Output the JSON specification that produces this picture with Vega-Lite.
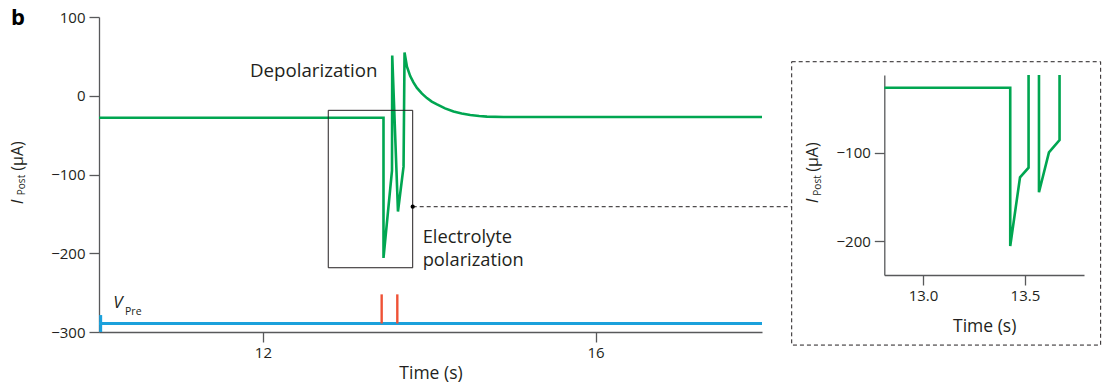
{
  "$schema": "https://vega.github.io/schema/vega-lite/v6.json",
  "width": 663,
  "height": 315,
  "autosize": {"type": "none"},
  "padding": {"left": 99, "top": 17, "right": 346, "bottom": 57},
  "background": "white",
  "config": {
    "view": {"stroke": null},
    "font": "Open Sans",
    "axis": {
      "grid": false,
      "domainColor": "#58595b",
      "tickColor": "#58595b",
      "domainWidth": 1.3,
      "tickWidth": 1.3,
      "tickSize": 10,
      "labelColor": "#231f20",
      "labelFont": "Open Sans",
      "labelFontSize": 15,
      "titleFont": "Open Sans",
      "titleFontSize": 17.5,
      "titleFontWeight": "normal",
      "titleColor": "#231f20"
    }
  },
  "datasets": {
    "post": [
      {"i": 1, "t": 10.03, "I": -28},
      {"i": 2, "t": 13.45, "I": -28},
      {"i": 3, "t": 13.45, "I": -206},
      {"i": 4, "t": 13.552, "I": -95},
      {"i": 5, "t": 13.555, "I": 51},
      {"i": 6, "t": 13.624, "I": -147},
      {"i": 7, "t": 13.691, "I": -90},
      {"i": 8, "t": 13.703, "I": 55},
      {"i": 9, "t": 13.732, "I": 37},
      {"i": 10, "t": 13.771, "I": 25},
      {"i": 11, "t": 13.81, "I": 17},
      {"i": 12, "t": 13.852, "I": 10},
      {"i": 13, "t": 13.91, "I": 3},
      {"i": 14, "t": 13.972, "I": -3},
      {"i": 15, "t": 14.03, "I": -7.5},
      {"i": 16, "t": 14.093, "I": -11},
      {"i": 17, "t": 14.19, "I": -16},
      {"i": 18, "t": 14.292, "I": -20},
      {"i": 19, "t": 14.39, "I": -22.5},
      {"i": 20, "t": 14.493, "I": -24.5},
      {"i": 21, "t": 14.6, "I": -25.8},
      {"i": 22, "t": 14.694, "I": -26.5},
      {"i": 23, "t": 14.894, "I": -27},
      {"i": 24, "t": 18.0, "I": -27}
    ],
    "pre": [
      {"t": 10.03, "V": -289.2},
      {"t": 18.0, "V": -289.2}
    ],
    "pulses": [
      {"t": 13.428, "lo": -289.2, "hi": -252.2},
      {"t": 13.616, "lo": -289.2, "hi": -252.2}
    ],
    "inset": [
      {"seg": "a", "i": 1, "t": 12.81, "I": -26.4},
      {"seg": "a", "i": 2, "t": 13.428, "I": -26.4},
      {"seg": "a", "i": 3, "t": 13.428, "I": -205.7},
      {"seg": "a", "i": 4, "t": 13.476, "I": -127.9},
      {"seg": "a", "i": 5, "t": 13.518, "I": -117},
      {"seg": "a", "i": 6, "t": 13.518, "I": -12},
      {"seg": "b", "i": 7, "t": 13.569, "I": -12},
      {"seg": "b", "i": 8, "t": 13.569, "I": -144.8},
      {"seg": "b", "i": 9, "t": 13.618, "I": -99.6},
      {"seg": "b", "i": 10, "t": 13.67, "I": -85.7},
      {"seg": "b", "i": 11, "t": 13.67, "I": -12}
    ]
  },
  "layer": [
    {
      "layer": [
        {
          "data": {"name": "post"},
          "mark": {"type": "line", "color": "#00a651", "strokeWidth": 2.6, "strokeJoin": "miter", "strokeMiterLimit": 4},
          "encoding": {
            "x": {"field": "t", "type": "quantitative",
                  "scale": {"domain": [10.03, 18], "nice": false, "zero": false},
                  "axis": {"values": [12, 16], "format": "d", "title": "Time (s)", "labelPadding": 3, "titlePadding": 4}},
            "y": {"field": "I", "type": "quantitative",
                  "scale": {"domain": [-300, 100], "nice": false, "zero": false},
                  "axis": {"values": [-300, -200, -100, 0, 100], "format": "d", "title": null, "labelPadding": 4}},
            "order": {"field": "i", "type": "quantitative"}
          }
        },
        {
          "data": {"name": "pre"},
          "mark": {"type": "line", "color": "#1ba1dc", "strokeWidth": 3},
          "encoding": {
            "x": {"field": "t", "type": "quantitative", "title": "Time (s)"},
            "y": {"field": "V", "type": "quantitative", "title": null}
          }
        },
        {
          "data": {"values": [{}]},
          "mark": {"type": "rule", "color": "#1ba1dc", "strokeWidth": 3},
          "encoding": {
            "x": {"datum": 10.05},
            "y": {"datum": -300},
            "y2": {"datum": -278.5}
          }
        },
        {
          "data": {"name": "pulses"},
          "mark": {"type": "rule", "color": "#ef5236", "strokeWidth": 2.4},
          "encoding": {
            "x": {"field": "t", "type": "quantitative", "title": "Time (s)"},
            "y": {"field": "lo", "type": "quantitative", "title": null},
            "y2": {"field": "hi"}
          }
        },
        {
          "data": {"values": [{}]},
          "mark": {"type": "rect", "fillOpacity": 0, "stroke": "#231f20", "strokeWidth": 1},
          "encoding": {
            "x": {"datum": 12.786}, "x2": {"datum": 13.801},
            "y": {"datum": -18.5}, "y2": {"datum": -218.4}
          }
        },
        {
          "data": {"values": [{}]},
          "mark": {"type": "rule", "color": "#231f20", "strokeWidth": 1, "strokeDash": [4, 3]},
          "encoding": {
            "x": {"datum": 13.801}, "x2": {"datum": 18.357},
            "y": {"datum": -140.9}
          }
        },
        {
          "data": {"values": [{}]},
          "mark": {"type": "point", "filled": true, "color": "#000000", "size": 18, "opacity": 1},
          "encoding": {
            "x": {"datum": 13.801},
            "y": {"datum": -140.9}
          }
        },
        {
          "data": {"values": [{}]},
          "mark": {"type": "rect", "fillOpacity": 0, "stroke": "#231f20", "strokeWidth": 1, "strokeDash": [4, 3]},
          "encoding": {
            "x": {"datum": 18.357}, "x2": {"datum": 22.071},
            "y": {"datum": 43.2}, "y2": {"datum": -316.6}
          }
        },
        {
          "data": {"values": [{}]},
          "mark": {"type": "text", "text": "b", "fontSize": 22, "fontWeight": "bold", "align": "center", "baseline": "alphabetic", "color": "#000000"},
          "encoding": {"x": {"datum": 9.056}, "y": {"datum": 89.8}}
        },
        {
          "data": {"values": [{}]},
          "mark": {"type": "text", "text": "Depolarization", "fontSize": 18.7, "align": "left", "baseline": "alphabetic", "color": "#231f20"},
          "encoding": {"x": {"datum": 11.845}, "y": {"datum": 24.2}}
        },
        {
          "data": {"values": [{}]},
          "mark": {"type": "text", "text": ["Electrolyte", "polarization"], "lineHeight": 23, "fontSize": 18.3, "align": "left", "baseline": "alphabetic", "color": "#231f20"},
          "encoding": {"x": {"datum": 13.921}, "y": {"datum": -187.6}}
        },
        {
          "data": {"values": [{}]},
          "mark": {"type": "text", "text": "V", "fontSize": 17, "fontStyle": "italic", "align": "left", "baseline": "alphabetic", "color": "#231f20"},
          "encoding": {"x": {"datum": 10.202}, "y": {"datum": -269.9}}
        },
        {
          "data": {"values": [{}]},
          "mark": {"type": "text", "text": "Pre", "fontSize": 10.5, "align": "left", "baseline": "alphabetic", "color": "#231f20"},
          "encoding": {"x": {"datum": 10.343}, "y": {"datum": -278.5}}
        },
        {
          "data": {"values": [{}]},
          "mark": {"type": "text", "text": "I", "fontSize": 17, "fontStyle": "italic", "angle": 270, "align": "center", "baseline": "alphabetic", "color": "#231f20"},
          "encoding": {"x": {"datum": 9.113}, "y": {"datum": -135}}
        },
        {
          "data": {"values": [{}]},
          "mark": {"type": "text", "text": "Post", "fontSize": 10, "angle": 270, "align": "center", "baseline": "alphabetic", "color": "#231f20"},
          "encoding": {"x": {"datum": 9.14}, "y": {"datum": -113.3}}
        },
        {
          "data": {"values": [{}]},
          "mark": {"type": "text", "text": "(µA)", "fontSize": 16, "angle": 270, "align": "center", "baseline": "alphabetic", "color": "#231f20"},
          "encoding": {"x": {"datum": 9.113}, "y": {"datum": -76.5}}
        }
      ]
    },
    {
      "layer": [
        {
          "data": {"name": "inset"},
          "mark": {"type": "line", "color": "#00a651", "strokeWidth": 2.6, "strokeJoin": "miter", "strokeMiterLimit": 4},
          "encoding": {
            "x": {"field": "t", "type": "quantitative",
                  "scale": {"domain": [12.81, 13.79], "range": [785.3, 985], "nice": false, "zero": false},
                  "axis": {"orient": "bottom", "offset": -57, "values": [13, 13.5], "format": ".1f", "title": "Time (s)", "labelPadding": 3, "titlePadding": 14}},
            "y": {"field": "I", "type": "quantitative",
                  "scale": {"domain": [-238.5, -12], "range": [258, 58], "nice": false, "zero": false},
                  "axis": {"orient": "left", "offset": -785.3, "values": [-200, -100], "format": "d", "title": null, "labelPadding": 4}},
            "detail": {"field": "seg", "type": "nominal"},
            "order": {"field": "i", "type": "quantitative"}
          }
        },
        {
          "data": {"values": [{}]},
          "mark": {"type": "text", "text": "I", "fontSize": 17, "fontStyle": "italic", "angle": 270, "align": "center", "baseline": "alphabetic", "color": "#231f20"},
          "encoding": {"x": {"datum": 12.486}, "y": {"datum": -154.7}}
        },
        {
          "data": {"values": [{}]},
          "mark": {"type": "text", "text": "Post", "fontSize": 10, "angle": 270, "align": "center", "baseline": "alphabetic", "color": "#231f20"},
          "encoding": {"x": {"datum": 12.499}, "y": {"datum": -137.1}}
        },
        {
          "data": {"values": [{}]},
          "mark": {"type": "text", "text": "(µA)", "fontSize": 16, "angle": 270, "align": "center", "baseline": "alphabetic", "color": "#231f20"},
          "encoding": {"x": {"datum": 12.486}, "y": {"datum": -104.9}}
        }
      ]
    }
  ],
  "resolve": {"scale": {"x": "independent", "y": "independent"}, "axis": {"x": "independent", "y": "independent"}}
}
